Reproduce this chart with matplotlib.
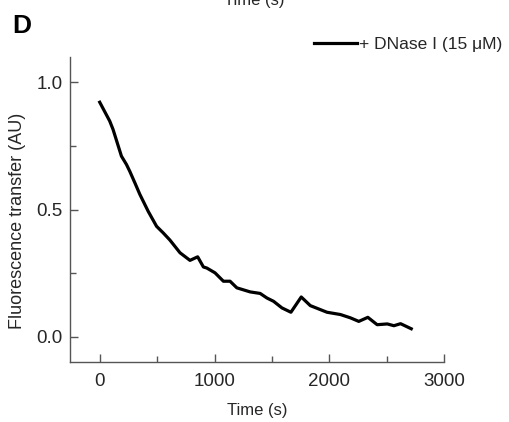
import matplotlib
matplotlib.use("Agg")
import matplotlib.pyplot as plt
from matplotlib.ticker import MultipleLocator

# ===== Data =====
time_s = [0, 87, 116, 189, 233, 262, 306, 349, 422, 495, 553, 611, 655, 699,
          786, 853, 903, 932, 1004, 1077, 1135, 1194, 1310, 1397, 1456, 1514,
          1587, 1665, 1755, 1834, 1979, 2096, 2183, 2256, 2335, 2416, 2504,
          2562, 2620, 2713]
fret = [0.922, 0.848, 0.815, 0.71, 0.677, 0.65, 0.605, 0.56, 0.493,
        0.434, 0.408, 0.38, 0.355, 0.33, 0.30, 0.314, 0.274, 0.27, 0.251,
        0.218, 0.218, 0.192, 0.176, 0.170, 0.152, 0.139, 0.113, 0.096, 0.156,
        0.122, 0.096, 0.087, 0.074, 0.060, 0.076, 0.047, 0.050, 0.043, 0.051,
        0.031]
series_label = "+ DNase I (15 \u03bcM)"

plt.rcParams["font.family"] = ["Liberation Sans", "DejaVu Sans"]
text_col = "#262626"
axis_col = "#555555"

# ===== Plot =====
fig = plt.figure(figsize=(5.1, 4.22), dpi=100)
ax = fig.add_axes([0.137, 0.142, 0.734, 0.723])

ax.plot(time_s, fret, color="black", lw=2.3, label=series_label)

ax.set_xlim(-260, 3000)
ax.set_ylim(-0.1, 1.1)
ax.xaxis.set_major_locator(MultipleLocator(1000))
ax.xaxis.set_minor_locator(MultipleLocator(500))
ax.yaxis.set_major_locator(MultipleLocator(0.5))
ax.yaxis.set_minor_locator(MultipleLocator(0.25))

for side in ["top", "right"]:
    ax.spines[side].set_visible(False)
for side in ["left", "bottom"]:
    ax.spines[side].set_color(axis_col)
    ax.spines[side].set_linewidth(1.0)

ax.tick_params(which="both", direction="in", color=axis_col, width=1.0)
ax.tick_params(which="major", length=6, labelsize=13.5, labelcolor=text_col)
ax.tick_params(which="minor", length=4)
ax.tick_params(axis="x", which="major", pad=8)
ax.tick_params(axis="y", which="major", pad=5)

ax.set_xlabel("Time (s)", fontsize=12, color=text_col, labelpad=9)
ax.set_ylabel("Fluorescence transfer (AU)", fontsize=13, color=text_col)
ax.yaxis.set_label_coords(-0.118, 0.462)

fig.legend(loc="center right", bbox_to_anchor=(502 / 510, 1 - 44 / 422),
           frameon=False, fontsize=12.5, handlelength=2.5, handletextpad=0.1,
           borderpad=0, borderaxespad=0, labelcolor=text_col)

# panel letter and cut-off label from the panel above
fig.text(12 / 510, 1 - 33 / 422, "D", fontsize=19, fontweight="bold", color="black")
fig.text(254 / 510, 1 - 5 / 422, "Time (s)", fontsize=12, color=text_col,
         ha="center", va="baseline")

plt.savefig("out.png", dpi=100)
